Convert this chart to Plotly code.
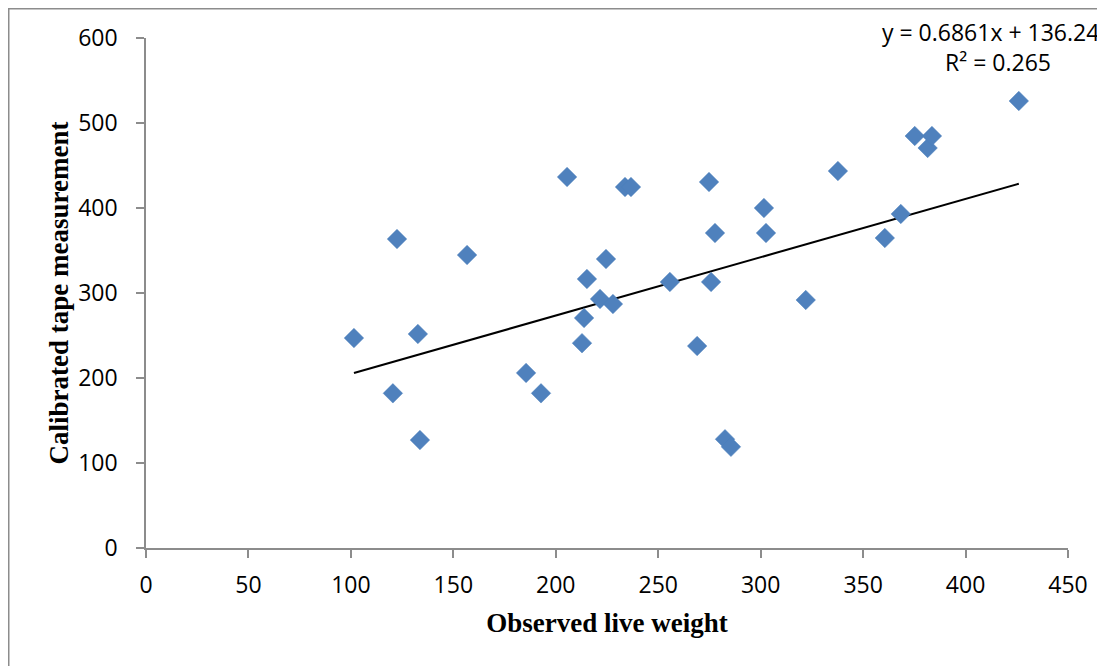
import numpy as np
import plotly.graph_objects as go

# Observed live weight (x) and calibrated tape measurement (y)
live_weight = [101.5, 120.5, 122.5, 132.7, 133.7, 156.7, 185.5, 192.8, 205.5, 212.8,
               213.8, 215.2, 221.6, 224.5, 227.9, 233.8, 236.7, 255.7, 269.0, 274.8,
               275.8, 277.7, 282.6, 285.5, 301.6, 302.6, 322.0, 337.7, 360.6, 368.4,
               375.2, 381.5, 383.6, 426.0]
tape_measure = [247, 182, 363.5, 251.8, 127, 344.7, 206, 182, 436.5, 241,
                270.6, 316.5, 293, 340, 287, 424.7, 424.7, 313, 237.6, 430.6,
                313, 370.6, 128, 119, 400, 370.6, 291.8, 443.5, 364.7, 393,
                484.7, 470.6, 484.7, 525.9]

slope = 0.6861
intercept = 136.24
r_squared = 0.265

x_ticks = [0, 50, 100, 150, 200, 250, 300, 350, 400, 450]
y_ticks = [0, 100, 200, 300, 400, 500, 600]

trend_x = [min(live_weight), max(live_weight)]
trend_y = [slope * v + intercept for v in trend_x]

fig = go.Figure()
fig.add_trace(go.Scatter(
    x=trend_x, y=trend_y, mode="lines",
    line=dict(color="black", width=2), hoverinfo="skip", showlegend=False))
fig.add_trace(go.Scatter(
    x=live_weight, y=tape_measure, mode="markers",
    marker=dict(symbol="diamond", size=15, color="#4F81BD",
                line=dict(color="#4A7EBB", width=0.5)),
    showlegend=False, cliponaxis=False))

# page has an 8px body margin; work in page pixels and convert
OFF = 8
W, H = 1105 - OFF, 666 - OFF
L, R, T, B = 146 - OFF, 1105 - 1068, 38 - OFF, 666 - 548
pw, ph = W - L - R, H - T - B

def px2paper_x(px):  # page px
    return (px - OFF - L) / pw

def px2paper_y(py):  # page px
    return (H - B - (py - OFF)) / ph

axis_common = dict(
    showgrid=False, zeroline=False, showline=True, linecolor="#8C8C8C", linewidth=1.5,
    ticks="outside", ticklen=8, tickwidth=1.5, tickcolor="#8C8C8C",
    tickfont=dict(family="Open Sans", size=23, color="black"),
)

title_font = dict(family="Liberation Serif", size=27, color="black", weight="bold")

fig.update_layout(
    width=W, height=H,
    margin=dict(l=L, r=R, t=T, b=B),
    paper_bgcolor="white", plot_bgcolor="white",
    xaxis=dict(range=[0, 450], tickvals=x_ticks, ticklabelstandoff=8,
               title=dict(text="Observed live weight", standoff=14, font=title_font),
               **axis_common),
    yaxis=dict(range=[0, 600], tickvals=y_ticks, ticklabelstandoff=14,
               title=dict(text="Calibrated tape measurement", standoff=2, font=title_font),
               **axis_common),
    shapes=[dict(type="rect", xref="paper", yref="paper",
                 x0=px2paper_x(8.75), x1=px2paper_x(1300), y0=px2paper_y(900), y1=px2paper_y(8.75),
                 line=dict(color="#8C8C8C", width=1.5), layer="below")],
    annotations=[
        dict(text=f"y = {slope}x + {intercept}", xref="paper", yref="paper",
             x=px2paper_x(1101), y=px2paper_y(32), xanchor="right", yanchor="middle",
             showarrow=False, font=dict(family="Open Sans", size=23, color="black")),
        dict(text=f"R² = {r_squared}", xref="paper", yref="paper",
             x=px2paper_x(998), y=px2paper_y(62), xanchor="center", yanchor="middle",
             showarrow=False, font=dict(family="Open Sans", size=23, color="black")),
    ],
)

fig.write_html("out.html")
